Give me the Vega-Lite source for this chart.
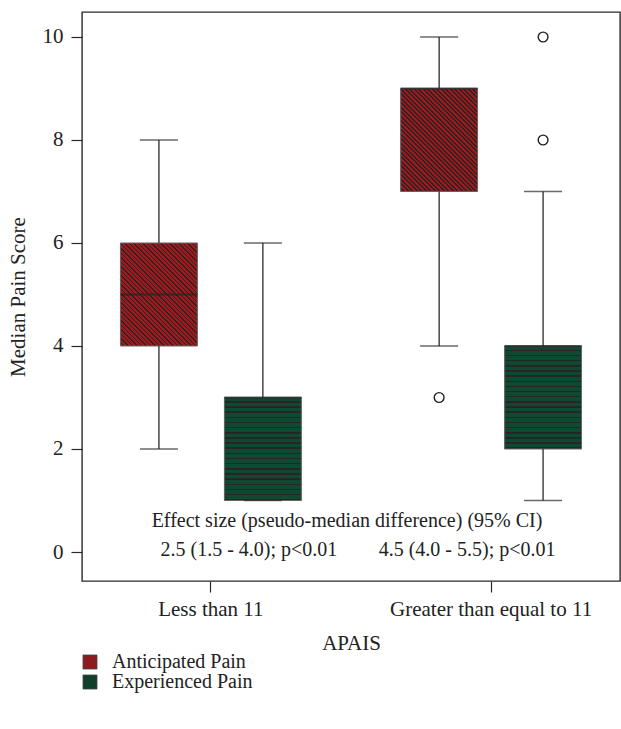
{
  "$schema": "https://vega.github.io/schema/vega-lite/v6.json",
  "width": 538,
  "height": 569,
  "autosize": "none",
  "padding": {"left": 82, "top": 12, "right": 1, "bottom": 148},
  "datasets": {
    "boxes": [
      {"group": "Less than 11", "series": "Anticipated Pain", "lower": 2, "q1": 4, "median": 5, "q3": 6, "upper": 8},
      {"group": "Less than 11", "series": "Experienced Pain", "lower": 1, "q1": 1, "median": 3, "q3": 3, "upper": 6},
      {"group": "Greater than equal to 11", "series": "Anticipated Pain", "lower": 4, "q1": 7, "median": 9, "q3": 9, "upper": 10},
      {"group": "Greater than equal to 11", "series": "Experienced Pain", "lower": 1, "q1": 2, "median": 4, "q3": 4, "upper": 7}
    ],
    "outliers": [
      {"group": "Greater than equal to 11", "series": "Anticipated Pain", "value": 3},
      {"group": "Greater than equal to 11", "series": "Experienced Pain", "value": 8},
      {"group": "Greater than equal to 11", "series": "Experienced Pain", "value": 10}
    ],
    "header": [
      {"label": "Effect size (pseudo-median difference) (95% CI)"}
    ],
    "notes": [
      {"group": "Less than 11", "label": "2.5 (1.5 - 4.0); p<0.01"},
      {"group": "Greater than equal to 11", "label": "4.5 (4.0 - 5.5); p<0.01"}
    ]
  },
  "layer": [
    {
      "data": {"name": "boxes"},
      "mark": {"type": "bar"},
      "encoding": {
        "x": {
          "field": "group", "type": "nominal",
          "scale": {"domain": ["Less than 11", "Greater than equal to 11"], "paddingInner": 0.08, "paddingOuter": 0},
          "axis": {"title": "APAIS", "labelAngle": 0, "labelPadding": 6, "titlePadding": 13, "labelLimit": 400}
        },
        "xOffset": {
          "field": "series", "type": "nominal",
          "scale": {"domain": ["Anticipated Pain", "Experienced Pain"], "paddingInner": 0.26, "paddingOuter": 0.37}
        },
        "y": {
          "field": "q1", "type": "quantitative",
          "scale": {"domain": [-0.563, 10.485], "nice": false, "zero": false},
          "axis": {"title": "Median Pain Score", "values": [0, 2, 4, 6, 8, 10], "labelPadding": 8, "titlePadding": 14}
        },
        "y2": {"field": "q3"},
        "fill": {
          "field": "series", "type": "nominal",
          "scale": {"domain": ["Anticipated Pain", "Experienced Pain"], "range": ["#8c1a1e", "#123f2c"]},
          "legend": {
            "title": null,
            "orient": "none",
            "legendX": -2,
            "legendY": 640,
            "symbolType": "square",
            "symbolSize": 196,
            "symbolStrokeColor": "#444",
            "symbolStrokeWidth": 0.8,
            "labelOffset": 12,
            "labelFontSize": 20,
            "rowPadding": 0
          }
        }
      }
    },
    {
      "data": {"name": "boxes"},
      "mark": {"type": "bar", "stroke": "#666", "strokeWidth": 1},
      "encoding": {
        "x": {"field": "group", "type": "nominal"},
        "xOffset": {"field": "series", "type": "nominal"},
        "y": {"field": "q1", "type": "quantitative"},
        "y2": {"field": "q3"},
        "fill": {
          "condition": {"test": "datum.series === 'Anticipated Pain'", "value": {"gradient": "linear", "x1": 0, "y1": 1, "x2": 0.838, "y2": -0.121, "stops": [
            {"offset": 0, "color": "#a0191e"}, {"offset": 0.015, "color": "#a0191e"}, {"offset": 0.015, "color": "#2b2222"}, {"offset": 0.025, "color": "#2b2222"},
            {"offset": 0.025, "color": "#a0191e"}, {"offset": 0.04, "color": "#a0191e"}, {"offset": 0.04, "color": "#2b2222"}, {"offset": 0.05, "color": "#2b2222"},
            {"offset": 0.05, "color": "#a0191e"}, {"offset": 0.065, "color": "#a0191e"}, {"offset": 0.065, "color": "#2b2222"}, {"offset": 0.075, "color": "#2b2222"},
            {"offset": 0.075, "color": "#a0191e"}, {"offset": 0.09, "color": "#a0191e"}, {"offset": 0.09, "color": "#2b2222"}, {"offset": 0.1, "color": "#2b2222"},
            {"offset": 0.1, "color": "#a0191e"}, {"offset": 0.115, "color": "#a0191e"}, {"offset": 0.115, "color": "#2b2222"}, {"offset": 0.125, "color": "#2b2222"},
            {"offset": 0.125, "color": "#a0191e"}, {"offset": 0.14, "color": "#a0191e"}, {"offset": 0.14, "color": "#2b2222"}, {"offset": 0.15, "color": "#2b2222"},
            {"offset": 0.15, "color": "#a0191e"}, {"offset": 0.165, "color": "#a0191e"}, {"offset": 0.165, "color": "#2b2222"}, {"offset": 0.175, "color": "#2b2222"},
            {"offset": 0.175, "color": "#a0191e"}, {"offset": 0.19, "color": "#a0191e"}, {"offset": 0.19, "color": "#2b2222"}, {"offset": 0.2, "color": "#2b2222"},
            {"offset": 0.2, "color": "#a0191e"}, {"offset": 0.215, "color": "#a0191e"}, {"offset": 0.215, "color": "#2b2222"}, {"offset": 0.225, "color": "#2b2222"},
            {"offset": 0.225, "color": "#a0191e"}, {"offset": 0.24, "color": "#a0191e"}, {"offset": 0.24, "color": "#2b2222"}, {"offset": 0.25, "color": "#2b2222"},
            {"offset": 0.25, "color": "#a0191e"}, {"offset": 0.265, "color": "#a0191e"}, {"offset": 0.265, "color": "#2b2222"}, {"offset": 0.275, "color": "#2b2222"},
            {"offset": 0.275, "color": "#a0191e"}, {"offset": 0.29, "color": "#a0191e"}, {"offset": 0.29, "color": "#2b2222"}, {"offset": 0.3, "color": "#2b2222"},
            {"offset": 0.3, "color": "#a0191e"}, {"offset": 0.315, "color": "#a0191e"}, {"offset": 0.315, "color": "#2b2222"}, {"offset": 0.325, "color": "#2b2222"},
            {"offset": 0.325, "color": "#a0191e"}, {"offset": 0.34, "color": "#a0191e"}, {"offset": 0.34, "color": "#2b2222"}, {"offset": 0.35, "color": "#2b2222"},
            {"offset": 0.35, "color": "#a0191e"}, {"offset": 0.365, "color": "#a0191e"}, {"offset": 0.365, "color": "#2b2222"}, {"offset": 0.375, "color": "#2b2222"},
            {"offset": 0.375, "color": "#a0191e"}, {"offset": 0.39, "color": "#a0191e"}, {"offset": 0.39, "color": "#2b2222"}, {"offset": 0.4, "color": "#2b2222"},
            {"offset": 0.4, "color": "#a0191e"}, {"offset": 0.415, "color": "#a0191e"}, {"offset": 0.415, "color": "#2b2222"}, {"offset": 0.425, "color": "#2b2222"},
            {"offset": 0.425, "color": "#a0191e"}, {"offset": 0.44, "color": "#a0191e"}, {"offset": 0.44, "color": "#2b2222"}, {"offset": 0.45, "color": "#2b2222"},
            {"offset": 0.45, "color": "#a0191e"}, {"offset": 0.465, "color": "#a0191e"}, {"offset": 0.465, "color": "#2b2222"}, {"offset": 0.475, "color": "#2b2222"},
            {"offset": 0.475, "color": "#a0191e"}, {"offset": 0.49, "color": "#a0191e"}, {"offset": 0.49, "color": "#2b2222"}, {"offset": 0.5, "color": "#2b2222"},
            {"offset": 0.5, "color": "#a0191e"}, {"offset": 0.515, "color": "#a0191e"}, {"offset": 0.515, "color": "#2b2222"}, {"offset": 0.525, "color": "#2b2222"},
            {"offset": 0.525, "color": "#a0191e"}, {"offset": 0.54, "color": "#a0191e"}, {"offset": 0.54, "color": "#2b2222"}, {"offset": 0.55, "color": "#2b2222"},
            {"offset": 0.55, "color": "#a0191e"}, {"offset": 0.565, "color": "#a0191e"}, {"offset": 0.565, "color": "#2b2222"}, {"offset": 0.575, "color": "#2b2222"},
            {"offset": 0.575, "color": "#a0191e"}, {"offset": 0.59, "color": "#a0191e"}, {"offset": 0.59, "color": "#2b2222"}, {"offset": 0.6, "color": "#2b2222"},
            {"offset": 0.6, "color": "#a0191e"}, {"offset": 0.615, "color": "#a0191e"}, {"offset": 0.615, "color": "#2b2222"}, {"offset": 0.625, "color": "#2b2222"},
            {"offset": 0.625, "color": "#a0191e"}, {"offset": 0.64, "color": "#a0191e"}, {"offset": 0.64, "color": "#2b2222"}, {"offset": 0.65, "color": "#2b2222"},
            {"offset": 0.65, "color": "#a0191e"}, {"offset": 0.665, "color": "#a0191e"}, {"offset": 0.665, "color": "#2b2222"}, {"offset": 0.675, "color": "#2b2222"},
            {"offset": 0.675, "color": "#a0191e"}, {"offset": 0.69, "color": "#a0191e"}, {"offset": 0.69, "color": "#2b2222"}, {"offset": 0.7, "color": "#2b2222"},
            {"offset": 0.7, "color": "#a0191e"}, {"offset": 0.715, "color": "#a0191e"}, {"offset": 0.715, "color": "#2b2222"}, {"offset": 0.725, "color": "#2b2222"},
            {"offset": 0.725, "color": "#a0191e"}, {"offset": 0.74, "color": "#a0191e"}, {"offset": 0.74, "color": "#2b2222"}, {"offset": 0.75, "color": "#2b2222"},
            {"offset": 0.75, "color": "#a0191e"}, {"offset": 0.765, "color": "#a0191e"}, {"offset": 0.765, "color": "#2b2222"}, {"offset": 0.775, "color": "#2b2222"},
            {"offset": 0.775, "color": "#a0191e"}, {"offset": 0.79, "color": "#a0191e"}, {"offset": 0.79, "color": "#2b2222"}, {"offset": 0.8, "color": "#2b2222"},
            {"offset": 0.8, "color": "#a0191e"}, {"offset": 0.815, "color": "#a0191e"}, {"offset": 0.815, "color": "#2b2222"}, {"offset": 0.825, "color": "#2b2222"},
            {"offset": 0.825, "color": "#a0191e"}, {"offset": 0.84, "color": "#a0191e"}, {"offset": 0.84, "color": "#2b2222"}, {"offset": 0.85, "color": "#2b2222"},
            {"offset": 0.85, "color": "#a0191e"}, {"offset": 0.865, "color": "#a0191e"}, {"offset": 0.865, "color": "#2b2222"}, {"offset": 0.875, "color": "#2b2222"},
            {"offset": 0.875, "color": "#a0191e"}, {"offset": 0.89, "color": "#a0191e"}, {"offset": 0.89, "color": "#2b2222"}, {"offset": 0.9, "color": "#2b2222"},
            {"offset": 0.9, "color": "#a0191e"}, {"offset": 0.915, "color": "#a0191e"}, {"offset": 0.915, "color": "#2b2222"}, {"offset": 0.925, "color": "#2b2222"},
            {"offset": 0.925, "color": "#a0191e"}, {"offset": 0.94, "color": "#a0191e"}, {"offset": 0.94, "color": "#2b2222"}, {"offset": 0.95, "color": "#2b2222"},
            {"offset": 0.95, "color": "#a0191e"}, {"offset": 0.965, "color": "#a0191e"}, {"offset": 0.965, "color": "#2b2222"}, {"offset": 0.975, "color": "#2b2222"},
            {"offset": 0.975, "color": "#a0191e"}, {"offset": 0.99, "color": "#a0191e"}, {"offset": 0.99, "color": "#2b2222"}, {"offset": 1, "color": "#2b2222"}
          ]}},
          "value": {"gradient": "linear", "x1": 0, "y1": 0, "x2": 0, "y2": 1, "stops": [
            {"offset": 0, "color": "#0e4a31"}, {"offset": 0.035, "color": "#0e4a31"}, {"offset": 0.035, "color": "#262626"}, {"offset": 0.05, "color": "#262626"},
            {"offset": 0.05, "color": "#0e4a31"}, {"offset": 0.085, "color": "#0e4a31"}, {"offset": 0.085, "color": "#262626"}, {"offset": 0.1, "color": "#262626"},
            {"offset": 0.1, "color": "#0e4a31"}, {"offset": 0.135, "color": "#0e4a31"}, {"offset": 0.135, "color": "#262626"}, {"offset": 0.15, "color": "#262626"},
            {"offset": 0.15, "color": "#0e4a31"}, {"offset": 0.185, "color": "#0e4a31"}, {"offset": 0.185, "color": "#262626"}, {"offset": 0.2, "color": "#262626"},
            {"offset": 0.2, "color": "#0e4a31"}, {"offset": 0.235, "color": "#0e4a31"}, {"offset": 0.235, "color": "#262626"}, {"offset": 0.25, "color": "#262626"},
            {"offset": 0.25, "color": "#0e4a31"}, {"offset": 0.285, "color": "#0e4a31"}, {"offset": 0.285, "color": "#262626"}, {"offset": 0.3, "color": "#262626"},
            {"offset": 0.3, "color": "#0e4a31"}, {"offset": 0.335, "color": "#0e4a31"}, {"offset": 0.335, "color": "#262626"}, {"offset": 0.35, "color": "#262626"},
            {"offset": 0.35, "color": "#0e4a31"}, {"offset": 0.385, "color": "#0e4a31"}, {"offset": 0.385, "color": "#262626"}, {"offset": 0.4, "color": "#262626"},
            {"offset": 0.4, "color": "#0e4a31"}, {"offset": 0.435, "color": "#0e4a31"}, {"offset": 0.435, "color": "#262626"}, {"offset": 0.45, "color": "#262626"},
            {"offset": 0.45, "color": "#0e4a31"}, {"offset": 0.485, "color": "#0e4a31"}, {"offset": 0.485, "color": "#262626"}, {"offset": 0.5, "color": "#262626"},
            {"offset": 0.5, "color": "#0e4a31"}, {"offset": 0.535, "color": "#0e4a31"}, {"offset": 0.535, "color": "#262626"}, {"offset": 0.55, "color": "#262626"},
            {"offset": 0.55, "color": "#0e4a31"}, {"offset": 0.585, "color": "#0e4a31"}, {"offset": 0.585, "color": "#262626"}, {"offset": 0.6, "color": "#262626"},
            {"offset": 0.6, "color": "#0e4a31"}, {"offset": 0.635, "color": "#0e4a31"}, {"offset": 0.635, "color": "#262626"}, {"offset": 0.65, "color": "#262626"},
            {"offset": 0.65, "color": "#0e4a31"}, {"offset": 0.685, "color": "#0e4a31"}, {"offset": 0.685, "color": "#262626"}, {"offset": 0.7, "color": "#262626"},
            {"offset": 0.7, "color": "#0e4a31"}, {"offset": 0.735, "color": "#0e4a31"}, {"offset": 0.735, "color": "#262626"}, {"offset": 0.75, "color": "#262626"},
            {"offset": 0.75, "color": "#0e4a31"}, {"offset": 0.785, "color": "#0e4a31"}, {"offset": 0.785, "color": "#262626"}, {"offset": 0.8, "color": "#262626"},
            {"offset": 0.8, "color": "#0e4a31"}, {"offset": 0.835, "color": "#0e4a31"}, {"offset": 0.835, "color": "#262626"}, {"offset": 0.85, "color": "#262626"},
            {"offset": 0.85, "color": "#0e4a31"}, {"offset": 0.885, "color": "#0e4a31"}, {"offset": 0.885, "color": "#262626"}, {"offset": 0.9, "color": "#262626"},
            {"offset": 0.9, "color": "#0e4a31"}, {"offset": 0.935, "color": "#0e4a31"}, {"offset": 0.935, "color": "#262626"}, {"offset": 0.95, "color": "#262626"},
            {"offset": 0.95, "color": "#0e4a31"}, {"offset": 0.985, "color": "#0e4a31"}, {"offset": 0.985, "color": "#262626"}, {"offset": 1, "color": "#262626"}
          ]}
        }
      }
    },
    {
      "data": {"name": "boxes"},
      "mark": {"type": "rule", "color": "#2a2a2a", "strokeWidth": 1.3},
      "encoding": {
        "x": {"field": "group", "type": "nominal"},
        "xOffset": {"field": "series", "type": "nominal"},
        "y": {"field": "lower", "type": "quantitative"},
        "y2": {"field": "q1"}
      }
    },
    {
      "data": {"name": "boxes"},
      "mark": {"type": "rule", "color": "#2a2a2a", "strokeWidth": 1.3},
      "encoding": {
        "x": {"field": "group", "type": "nominal"},
        "xOffset": {"field": "series", "type": "nominal"},
        "y": {"field": "q3", "type": "quantitative"},
        "y2": {"field": "upper"}
      }
    },
    {
      "data": {"name": "boxes"},
      "mark": {"type": "tick", "color": "#2a2a2a", "size": 38, "thickness": 1.3},
      "encoding": {
        "x": {"field": "group", "type": "nominal"},
        "xOffset": {"field": "series", "type": "nominal"},
        "y": {"field": "lower", "type": "quantitative"}
      }
    },
    {
      "data": {"name": "boxes"},
      "mark": {"type": "tick", "color": "#2a2a2a", "size": 38, "thickness": 1.3},
      "encoding": {
        "x": {"field": "group", "type": "nominal"},
        "xOffset": {"field": "series", "type": "nominal"},
        "y": {"field": "upper", "type": "quantitative"}
      }
    },
    {
      "data": {"name": "boxes"},
      "mark": {"type": "tick", "color": "#222", "size": 77, "thickness": 2.2},
      "encoding": {
        "x": {"field": "group", "type": "nominal"},
        "xOffset": {"field": "series", "type": "nominal"},
        "y": {"field": "median", "type": "quantitative"}
      }
    },
    {
      "data": {"name": "outliers"},
      "mark": {"type": "point", "shape": "circle", "filled": false, "size": 95, "stroke": "#222", "strokeWidth": 1.4, "opacity": 1},
      "encoding": {
        "x": {"field": "group", "type": "nominal"},
        "xOffset": {"field": "series", "type": "nominal"},
        "y": {"field": "value", "type": "quantitative"}
      }
    },
    {
      "data": {"name": "header"},
      "mark": {"type": "text", "font": "Liberation Serif", "fontSize": 20, "color": "#222", "baseline": "middle", "dx": -4},
      "encoding": {
        "y": {"datum": 0.6, "type": "quantitative"},
        "text": {"field": "label"}
      }
    },
    {
      "data": {"name": "notes"},
      "transform": [{"filter": "datum.group === 'Less than 11'"}],
      "mark": {"type": "text", "font": "Liberation Serif", "fontSize": 20, "color": "#222", "baseline": "middle", "dx": 38},
      "encoding": {
        "x": {"field": "group", "type": "nominal"},
        "y": {"datum": 0.03, "type": "quantitative"},
        "text": {"field": "label"}
      }
    },
    {
      "data": {"name": "notes"},
      "transform": [{"filter": "datum.group === 'Greater than equal to 11'"}],
      "mark": {"type": "text", "font": "Liberation Serif", "fontSize": 20, "color": "#222", "baseline": "middle", "dx": -24},
      "encoding": {
        "x": {"field": "group", "type": "nominal"},
        "y": {"datum": 0.03, "type": "quantitative"},
        "text": {"field": "label"}
      }
    }
  ],
  "config": {
    "font": "Liberation Serif",
    "view": {"stroke": "#2a2a2a", "strokeWidth": 1.4},
    "axis": {
      "labelFont": "Liberation Serif", "titleFont": "Liberation Serif",
      "labelFontSize": 21, "titleFontSize": 21, "titleFontWeight": "normal",
      "labelColor": "#222", "titleColor": "#222",
      "tickColor": "#2a2a2a", "tickSize": 11, "tickWidth": 1.2,
      "domain": false, "grid": false
    },
    "legend": {
      "labelFont": "Liberation Serif", "labelFontSize": 20, "labelColor": "#222"
    }
  }
}
